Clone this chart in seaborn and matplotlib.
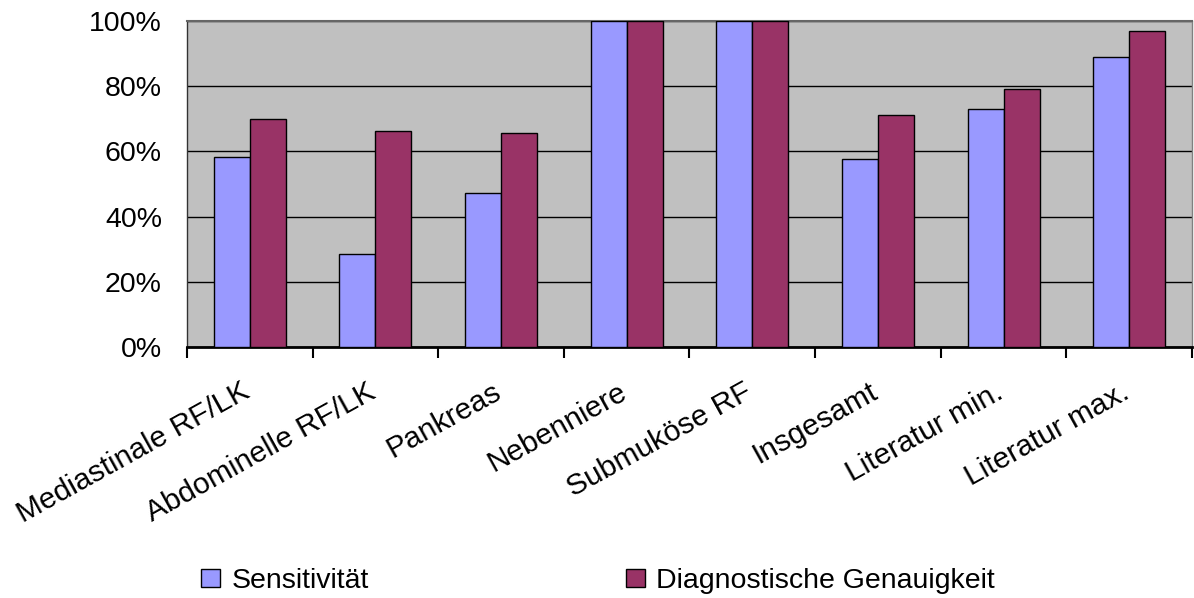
import numpy as np
import pandas as pd
import matplotlib.pyplot as plt
import matplotlib.transforms as mtransforms
from matplotlib.patches import Patch
from matplotlib.ticker import FixedLocator, PercentFormatter
import seaborn as sns

# values
kategorien = ["Mediastinale RF/LK", "Abdominelle RF/LK", "Pankreas", "Nebenniere",
              "Submuköse RF", "Insgesamt", "Literatur min.", "Literatur max."]
sensitivitaet = [0.584, 0.284, 0.473, 1.0, 1.0, 0.578, 0.731, 0.89]
genauigkeit = [0.70, 0.663, 0.657, 1.0, 1.0, 0.713, 0.792, 0.969]
serien = ["Sensitivität", "Diagnostische Genauigkeit"]
farben = ["#9999FF", "#993366"]

df = pd.DataFrame({
    "Kategorie": kategorien * 2,
    "Wert": sensitivitaet + genauigkeit,
    "Serie": [serien[0]] * len(kategorien) + [serien[1]] * len(kategorien),
})

sns.set_style("white")
plt.rcParams["font.family"] = ["Liberation Sans", "DejaVu Sans"]
plt.rcParams["text.color"] = "black"
plt.rcParams["xtick.color"] = "black"
plt.rcParams["ytick.color"] = "black"
fs = 20.5

fig = plt.figure(figsize=(11.94, 5.98), dpi=100)
ax = fig.add_axes([0.1566, 0.4197, 0.8417, 0.5452])
ax.set_facecolor("#C0C0C0")

sns.barplot(data=df, x="Kategorie", y="Wert", hue="Serie", hue_order=serien,
            palette=farben, saturation=1, width=0.573, edgecolor="black",
            linewidth=1, legend=False, ax=ax, zorder=3)

ax.set_xlim(-0.5, len(kategorien) - 0.5)
ax.set_ylim(0, 1)
ax.set_yticks(np.arange(0, 1.01, 0.2))
ax.yaxis.set_major_formatter(PercentFormatter(1.0, decimals=0))
ax.grid(axis="y", color="black", linewidth=1.0, zorder=1)
ax.set_axisbelow(True)
ax.set_xlabel("")
ax.set_ylabel("")

ax.tick_params(axis="y", length=0, pad=18, labelsize=fs, labelcolor="black")
ax.tick_params(axis="x", which="major", length=0, pad=22, labelsize=21.5, labelcolor="black")
ax.xaxis.set_minor_locator(FixedLocator(np.arange(-0.5, len(kategorien), 1.0)))
ax.tick_params(axis="x", which="minor", length=8, width=1.5, direction="out",
               color="black", bottom=True)
verschiebung = mtransforms.ScaledTranslation(-9 / 100, 0, fig.dpi_scale_trans)
for lbl in ax.get_xticklabels():
    lbl.set_rotation(29)
    lbl.set_ha("right")
    lbl.set_va("top")
    lbl.set_rotation_mode("anchor")
    lbl.set_transform(lbl.get_transform() + verschiebung)

ax.spines["left"].set_color("#333333")
ax.spines["left"].set_linewidth(1)
ax.spines["bottom"].set_color("black")
ax.spines["bottom"].set_linewidth(2)
ax.spines["top"].set_color("#666666")
ax.spines["top"].set_linewidth(1.5)
ax.spines["right"].set_color("#808080")
ax.spines["right"].set_linewidth(1)

handles = [Patch(facecolor=c, edgecolor="black", linewidth=1) for c in farben]
fig.legend(handles, serien, loc="center left", bbox_to_anchor=(201 / 1194, 1 - 581 / 598),
           ncol=2, frameon=False, fontsize=fs, handlelength=0.67, handleheight=0.63,
           handletextpad=0.39, columnspacing=9.05, borderpad=0, borderaxespad=0,
           labelcolor="black")

plt.savefig("out.png", dpi=100)
